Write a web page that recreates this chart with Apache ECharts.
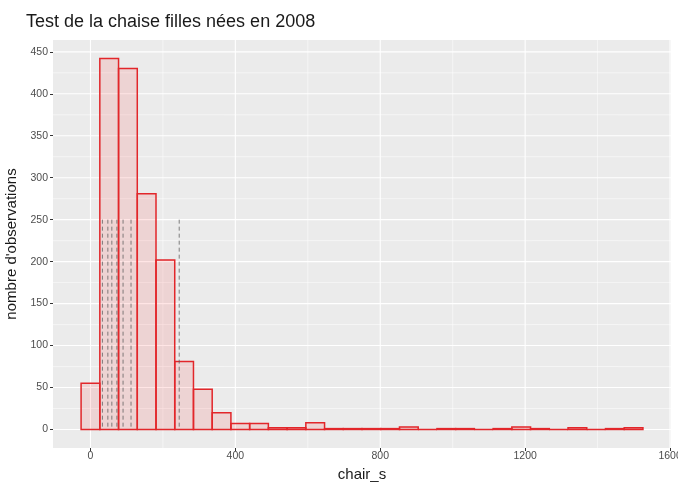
<!DOCTYPE html>
<html>
<head>
<meta charset="utf-8">
<script src="https://cdn.jsdelivr.net/npm/echarts@6/dist/echarts.min.js"></script>
<style>
html,body{margin:0;padding:0;background:#fff;}
#c{width:678px;height:484px;}
</style>
</head>
<body>
<div id="c"></div>
<script>
// ---- data ----
const title = "Test de la chaise filles nées en 2008";
const xTitle = "chair_s";
const yTitle = "nombre d'observations";
const binWidth = 51.7;          // width of each histogram bin (chair_s units)
const binCenters = [0, 51.7, 103.4, 155.1, 206.8, 258.5, 310.2, 361.9, 413.6, 465.3,
  517, 568.7, 620.4, 672.1, 723.8, 775.5, 827.2, 878.9, 930.6, 982.3,
  1034, 1085.7, 1137.4, 1189.1, 1240.8, 1292.5, 1344.2, 1395.9, 1447.6, 1499.3];
const counts = [55, 442, 430, 281, 202, 81, 48, 20, 7, 7,
  2, 2, 8, 1, 1, 1, 1, 3, 0, 1,
  1, 0, 1, 3, 1, 0, 2, 0, 1, 2];
const dashedX = [33, 48, 59, 73, 90, 112, 245];   // dashed reference lines
const dashedTop = 250;
const xTicks = [0, 400, 800, 1200, 1600];
const xMinor = [200, 600, 1000, 1400];
const yTicks = [0, 50, 100, 150, 200, 250, 300, 350, 400, 450];
const yMinor = [25, 75, 125, 175, 225, 275, 325, 375, 425];
const xRange = [-103.4, 1602.6];
const yRange = [-22.1, 464.1];

// ---- build ----
const barData = binCenters.map((c, i) => [c - binWidth / 2, c + binWidth / 2, counts[i]]);
const gridData = []
  .concat(xTicks.map(v => ['x', v, 1.1]))
  .concat(xMinor.map(v => ['x', v, 0.5]))
  .concat(yTicks.map(v => ['y', v, 1.1]))
  .concat(yMinor.map(v => ['y', v, 0.5]));

const chart = echarts.init(document.getElementById('c'), null, {renderer: 'canvas'});
const font = 'Liberation Sans, Arial, Helvetica, sans-serif';

chart.setOption({
  animation: false,
  backgroundColor: '#ffffff',
  title: {
    text: title, left: 21, top: 8,
    textStyle: {fontFamily: font, fontSize: 18, fontWeight: 'normal', color: '#1a1a1a'}
  },
  grid: {left: 53, right: 7, top: 40, bottom: 36, show: true, backgroundColor: '#EBEBEB',
    borderWidth: 0, containLabel: false, outerBoundsMode: 'none'},
  xAxis: {
    type: 'value', min: xRange[0], max: xRange[1],
    name: xTitle, nameLocation: 'middle', nameGap: 17,
    nameTextStyle: {fontFamily: font, fontSize: 15, color: '#1a1a1a'},
    axisLine: {show: false, onZero: false},
    splitLine: {show: false},
    axisTick: {show: true, customValues: xTicks, length: 3, lineStyle: {color: '#333333', width: 1}},
    axisLabel: {customValues: xTicks, fontFamily: font, fontSize: 10.5, color: '#4D4D4D', margin: 3,
      formatter: v => String(v)}
  },
  yAxis: {
    type: 'value', min: yRange[0], max: yRange[1],
    name: yTitle, nameLocation: 'middle', nameGap: 29, nameRotate: 90,
    nameTextStyle: {fontFamily: font, fontSize: 15, color: '#1a1a1a'},
    axisLine: {show: false, onZero: false},
    splitLine: {show: false},
    axisTick: {show: true, customValues: yTicks, length: 3, lineStyle: {color: '#333333', width: 1}},
    axisLabel: {customValues: yTicks, fontFamily: font, fontSize: 10.5, color: '#4D4D4D', margin: 5,
      formatter: v => String(v)}
  },
  series: [
    {
      type: 'custom', name: 'grid', z: 1, silent: true,
      data: gridData.map((d, i) => [i]),
      renderItem: function (params, api) {
        const d = gridData[params.dataIndex];
        const cs = params.coordSys;
        if (d[0] === 'x') {
          const px = api.coord([d[1], 0])[0];
          return {type: 'line', shape: {x1: px, y1: cs.y, x2: px, y2: cs.y + cs.height},
            style: {stroke: '#ffffff', lineWidth: d[2]}};
        } else {
          const py = api.coord([0, d[1]])[1];
          return {type: 'line', shape: {x1: cs.x, y1: py, x2: cs.x + cs.width, y2: py},
            style: {stroke: '#ffffff', lineWidth: d[2]}};
        }
      }
    },
    {
      type: 'custom', name: 'hist', z: 2,
      data: barData,
      encode: {x: [0, 1], y: 2},
      renderItem: function (params, api) {
        const p0 = api.coord([api.value(0), api.value(2)]);
        const p1 = api.coord([api.value(1), 0]);
        return {type: 'rect',
          shape: {x: p0[0], y: p0[1], width: p1[0] - p0[0], height: p1[1] - p0[1]},
          style: {fill: 'rgba(255,0,0,0.1)', stroke: '#E2262A', lineWidth: 1.5}};
      }
    },
    {
      type: 'custom', name: 'dashed', z: 3, silent: true,
      data: dashedX.map(v => [v, dashedTop]),
      encode: {x: 0, y: 1},
      renderItem: function (params, api) {
        const top = api.coord([api.value(0), api.value(1)]);
        const bot = api.coord([api.value(0), 0]);
        return {type: 'line', shape: {x1: top[0], y1: top[1], x2: bot[0], y2: bot[1]},
          style: {stroke: 'rgba(90,90,90,0.75)', lineWidth: 1, lineDash: [4, 3]}};
      }
    }
  ]
});
</script>
</body>
</html>
